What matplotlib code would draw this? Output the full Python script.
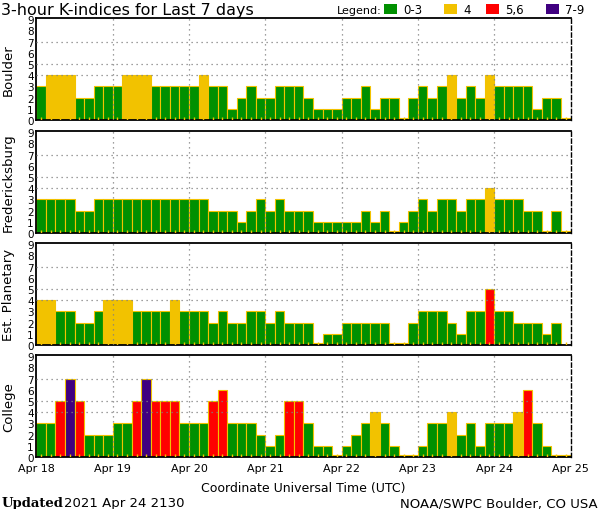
import matplotlib
matplotlib.use("Agg")
import matplotlib.pyplot as plt
import numpy as np
from matplotlib.patches import Rectangle

plt.rcParams["font.family"] = "DejaVu Sans"

# ---------- data (3-hour K-index, Apr 18 00 UT .. Apr 24 21 UT) ----------
stations = ["Boulder", "Fredericksburg", "Est. Planetary", "College"]
boulder = [3, 4, 4, 4, 2, 2, 3, 3, 3, 4, 4, 4, 3, 3, 3, 3,
           3, 4, 3, 3, 1, 2, 3, 2, 2, 3, 3, 3, 2, 1, 1, 1,
           2, 2, 3, 1, 2, 2, 0, 2, 3, 2, 3, 4, 2, 3, 2, 4,
           3, 3, 3, 3, 1, 2, 2, 0]
fredericksburg = [3, 3, 3, 3, 2, 2, 3, 3, 3, 3, 3, 3, 3, 3, 3, 3,
                  3, 3, 2, 2, 2, 1, 2, 3, 2, 3, 2, 2, 2, 1, 1, 1,
                  1, 1, 2, 1, 2, 0, 1, 2, 3, 2, 3, 3, 2, 3, 3, 4,
                  3, 3, 3, 2, 2, 0, 2, 0]
est_planetary = [4, 4, 3, 3, 2, 2, 3, 4, 4, 4, 3, 3, 3, 3, 4, 3,
                 3, 3, 2, 3, 2, 2, 3, 3, 2, 3, 2, 2, 2, 0, 1, 1,
                 2, 2, 2, 2, 2, 0, 0, 2, 3, 3, 3, 2, 1, 3, 3, 5,
                 3, 3, 2, 2, 2, 1, 2, None]
college = [3, 3, 5, 7, 5, 2, 2, 2, 3, 3, 5, 7, 5, 5, 5, 3,
           3, 3, 5, 6, 3, 3, 3, 2, 1, 2, 5, 5, 3, 1, 1, 0,
           1, 2, 3, 4, 3, 1, 0, 0, 1, 3, 3, 4, 2, 3, 1, 3,
           3, 3, 4, 6, 3, 1, 0, 0]
series = [boulder, fredericksburg, est_planetary, college]
day_labels = ["Apr 18", "Apr 19", "Apr 20", "Apr 21", "Apr 22", "Apr 23", "Apr 24", "Apr 25"]

GREEN = "#009000"
YELLOW = "#f2c200"
RED = "#ff0000"
PURPLE = "#400080"
GRID = "#808080"


def kcolor(k):
    if k <= 3:
        return GREEN
    if k == 4:
        return YELLOW
    if k <= 6:
        return RED
    return PURPLE


W, H = 600, 510
fig = plt.figure(figsize=(W / 100, H / 100), dpi=100)

left_px, right_px = 36.4, 570.5
tops = [19, 132, 244, 356]
panel_h = 102

for i, (name, vals) in enumerate(zip(stations, series)):
    top = tops[i]
    ax = fig.add_axes([left_px / W, 1 - (top + panel_h) / H,
                       (right_px - left_px) / W, panel_h / H])
    n = len(vals)
    x = np.arange(n) / 8.0
    for xi, v in zip(x, vals):
        if v is None:
            continue
        ax.bar(xi, max(v, 0.15), width=1 / 8, align="edge",
               color=kcolor(v), edgecolor=YELLOW, linewidth=0.8, zorder=2)
    # little yellow marks at the foot of each 3-hour slot
    ax.vlines(x + 1 / 16, 0, 0.25, color=YELLOW, linewidth=1.0, zorder=3)

    for lvl in (4, 5, 7):
        ax.axhline(lvl, color=GRID, linewidth=0.9, dashes=(1, 3), zorder=4)
    for d in range(1, 7):
        ax.axvline(d, color=GRID, linewidth=0.9, dashes=(1, 3), zorder=4)

    ax.set_xlim(0, 7)
    ax.set_ylim(0, 9.1)
    ax.set_yticks(range(10))
    ax.set_yticklabels([str(k) for k in range(10)], fontsize=7.5)
    ax.tick_params(axis="y", length=0, pad=2)
    ax.set_xticks(range(8))
    if i == 3:
        ax.set_xticklabels(day_labels, fontsize=8)
        ax.tick_params(axis="x", length=0, pad=4)
    else:
        ax.set_xticklabels([])
        ax.tick_params(axis="x", length=0)
    for s in ("top", "left", "bottom"):
        ax.spines[s].set_linewidth(1.3)
    ax.spines["right"].set_linewidth(1.0)
    ax.spines["right"].set_linestyle((0, (3, 2)))
    ax.set_ylabel(name, fontsize=9.5)
    # right edge of the rotated label sits ~15 px from the figure edge
    ax.yaxis.set_label_coords(-(left_px - 15) / (right_px - left_px), 0.5)

# title and legend
fig.text(1 / W, 1 - 10 / H, "3-hour K-indices for Last 7 days", fontsize=11.5,
         ha="left", va="center")
fig.text(337 / W, 1 - 11 / H, "Legend:", fontsize=8, ha="left", va="center")
legend_items = [(384, GREEN, "0-3"), (444, YELLOW, "4"), (486, RED, "5,6"), (546, PURPLE, "7-9")]
for lx, col, lab in legend_items:
    fig.patches.append(Rectangle((lx / W, 1 - 15 / H), 13 / W, 10 / H,
                                 transform=fig.transFigure, facecolor=col,
                                 edgecolor="none"))
    fig.text((lx + 19) / W, 1 - 10.5 / H, lab, fontsize=8.5, ha="left", va="center")

# axis caption and footer
fig.text(303 / W, 1 - 489 / H, "Coordinate Universal Time (UTC)", fontsize=9,
         ha="center", va="center")
fig.text(2 / W, 1 - 504 / H, "Updated", fontsize=9.5, family="DejaVu Serif",
         fontweight="bold", ha="left", va="center")
fig.text(64 / W, 1 - 504 / H, "2021 Apr 24 2130", fontsize=9.5, ha="left", va="center")
fig.text(598 / W, 1 - 504 / H, "NOAA/SWPC Boulder, CO USA", fontsize=9.5,
         ha="right", va="center")

fig.savefig("out.png", dpi=100)
